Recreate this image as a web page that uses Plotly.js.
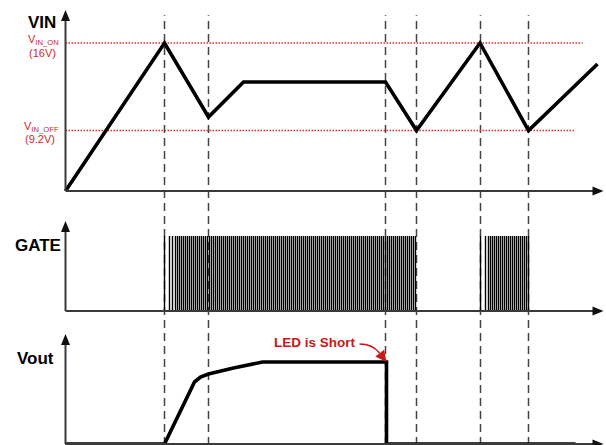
<!DOCTYPE html>
<html>
<head>
<meta charset="utf-8">
<script src="https://cdn.plot.ly/plotly-3.0.1.min.js"></script>
<style>html,body{margin:0;padding:0;background:#fff;}#chart{width:606px;height:445px;}</style>
</head>
<body>
<div id="chart"></div>
<script>
// ---- Data (time in arbitrary units, levels in arbitrary schematic units) ----
const vinTime   = [0, 99, 143, 178, 320, 351, 414.5, 463, 532];
const vinLevel  = [0, 148, 74, 109, 109, 60.5, 148, 60.5, 127];
const vinOnLevel = 148;   // V_IN_ON (16V)
const vinOffLevel = 60.5; // V_IN_OFF (9.2V)
const vinOnLabel = ['V<sub>IN_ON</sub>', '(16V)'];
const vinOffLabel = ['V<sub>IN_OFF</sub>', '(9.2V)'];

const gatePulseTimes = [99,104,107,110,112,
 114,116,118,120,122,124,126,128,130,132,134,136,138,140,142,144,146,148,150,152,154,156,158,160,162,164,166,168,170,172,174,176,178,180,182,184,186,188,190,192,194,196,198,200,202,204,206,208,210,212,214,216,218,220,222,224,226,228,230,232,234,236,238,240,242,244,246,248,250,252,254,256,258,260,262,264,266,268,270,272,274,276,278,280,282,284,286,288,290,292,294,296,298,300,302,304,306,308,310,312,314,316,318,320,322,324,326,328,330,332,334,336,338,340,342,344,346,348,350,
 415,420,423,425,
 427,429,431,433,435,437,439,441,443,445,447,449,451,453,455,457,459,461,463];
const gateHigh = 75;

const voutTime  = [0, 99, 129, 135, 143, 168, 197, 321, 321, 510];
const voutLevel = [0, 0, 62, 67, 70, 76, 82, 82, 0, 0];

const eventTimes = [99, 143, 320, 351, 415, 463];
const panelLabels = ['VIN', 'GATE', 'Vout'];
const shortLabel = 'LED is Short';

// ---- build gate pulse polyline ----
const gx = [], gy = [];
gatePulseTimes.forEach(t => { gx.push(t, t, null); gy.push(0, gateHigh, null); });

const FONT = 'Liberation Sans, Arial, sans-serif';
const RED = '#cc2b2b';
const AX = '#3a3a3a';
const H = 445;
const P = px => (H - px) / H;   // pixel row -> paper fraction (layout helper)

const traces = [
  {x: vinTime, y: vinLevel, xaxis: 'x', yaxis: 'y', mode: 'lines',
   line: {color: '#000', width: 3.6}, hoverinfo: 'skip'},
  {x: gx, y: gy, xaxis: 'x', yaxis: 'y2', mode: 'lines',
   line: {color: '#000', width: 1.4}, hoverinfo: 'skip', connectgaps: false},
  {x: voutTime, y: voutLevel, xaxis: 'x', yaxis: 'y3', mode: 'lines',
   line: {color: '#000', width: 3.6}, hoverinfo: 'skip'}
];

const shapes = [];
eventTimes.forEach(t => shapes.push({type: 'line', xref: 'x', yref: 'paper', x0: t, x1: t, y0: 0, y1: 0.966,
  line: {color: '#444', width: 1.5, dash: '8px,5px'}, layer: 'below'}));
shapes.push({type: 'line', xref: 'x', yref: 'y', x0: 0, x1: 517, y0: vinOnLevel, y1: vinOnLevel,
  line: {color: '#d83030', width: 1.3, dash: '1.5px,1.5px'}, layer: 'below'});
shapes.push({type: 'line', xref: 'x', yref: 'y', x0: 0, x1: 509, y0: vinOffLevel, y1: vinOffLevel,
  line: {color: '#d83030', width: 1.3, dash: '1.5px,1.5px'}, layer: 'below'});

// axes with arrowheads (base row, tip row of the vertical axis), drawn as shapes
const panels = [[191, 10], [311, 221], [444, 334]];
const xTip = 538;
panels.forEach(([base, tip]) => {
  shapes.push({type: 'line', xref: 'x', yref: 'paper', x0: 0, x1: 0, y0: P(base), y1: P(tip + 8),
    line: {color: AX, width: 2}});
  shapes.push({type: 'line', xref: 'x', yref: 'paper', x0: 0, x1: xTip - 8, y0: P(base), y1: P(base),
    line: {color: AX, width: 2}});
  shapes.push({type: 'path', xref: 'x', yref: 'paper',
    path: `M 0,${P(tip)} L 4.5,${P(tip + 11)} L -4.5,${P(tip + 11)} Z`,
    fillcolor: '#111', line: {width: 0}});
  shapes.push({type: 'path', xref: 'x', yref: 'paper',
    path: `M ${xTip},${P(base)} L ${xTip - 11},${P(base - 4.5)} L ${xTip - 11},${P(base + 4.5)} Z`,
    fillcolor: '#111', line: {width: 0}});
});

// curved pointer for "LED is Short"
shapes.push({type: 'path', xref: 'x', yref: 'y3', path: 'M 294,100 Q 307,100 314,91',
  line: {color: '#c81818', width: 1.5}});
shapes.push({type: 'path', xref: 'x', yref: 'y3', path: 'M 321,82 L 318.6,94.3 L 309.8,87.5 Z',
  fillcolor: '#c81818', line: {width: 0}});

const annotations = [
  {xref: 'paper', yref: 'paper', x: 42 / 606, y: P(23), text: panelLabels[0], showarrow: false,
   xanchor: 'center', yanchor: 'middle', font: {family: FONT, size: 17, color: '#000', weight: 'bold'}},
  {xref: 'paper', yref: 'paper', x: 38 / 606, y: P(245), text: panelLabels[1], showarrow: false,
   xanchor: 'center', yanchor: 'middle', font: {family: FONT, size: 17, color: '#000', weight: 'bold'}},
  {xref: 'paper', yref: 'paper', x: 35 / 606, y: P(358), text: panelLabels[2], showarrow: false,
   xanchor: 'center', yanchor: 'middle', font: {family: FONT, size: 17, color: '#000', weight: 'bold'}},
  {xref: 'paper', yref: 'paper', x: 43 / 606, y: P(40), text: vinOnLabel[0], showarrow: false, xanchor: 'center', yanchor: 'middle',
   font: {family: FONT, size: 11, color: RED}},
  {xref: 'paper', yref: 'paper', x: 42 / 606, y: P(53), text: vinOnLabel[1], showarrow: false, xanchor: 'center', yanchor: 'middle',
   font: {family: FONT, size: 11, color: RED}},
  {xref: 'paper', yref: 'paper', x: 41 / 606, y: P(127), text: vinOffLabel[0], showarrow: false, xanchor: 'center', yanchor: 'middle',
   font: {family: FONT, size: 11, color: RED}},
  {xref: 'paper', yref: 'paper', x: 40 / 606, y: P(139), text: vinOffLabel[1], showarrow: false, xanchor: 'center', yanchor: 'middle',
   font: {family: FONT, size: 11, color: RED}},
  {xref: 'x', yref: 'y3', x: 249, y: 101, text: shortLabel, showarrow: false, xanchor: 'center', yanchor: 'middle',
   font: {family: FONT, size: 13.5, color: '#c81818', weight: 'bold'}}
];

const hidden = {visible: false, fixedrange: true, showgrid: false, zeroline: false};
const layout = {
  width: 606, height: 445, autosize: false,
  margin: {l: 0, r: 0, t: 0, b: 0, pad: 0},
  paper_bgcolor: '#fff', plot_bgcolor: '#fff', showlegend: false,
  xaxis: Object.assign({range: [-65.5, 540.5]}, hidden),
  yaxis: Object.assign({range: [0, 191], domain: [0.57079, 1]}, hidden),
  yaxis2: Object.assign({range: [0, 100], domain: [0.30112, 0.52584]}, hidden),
  yaxis3: Object.assign({range: [-1, 124], domain: [0, 0.2809]}, hidden),
  shapes: shapes, annotations: annotations
};
Plotly.newPlot('chart', traces, layout, {displayModeBar: false, staticPlot: true});
</script>
</body>
</html>
